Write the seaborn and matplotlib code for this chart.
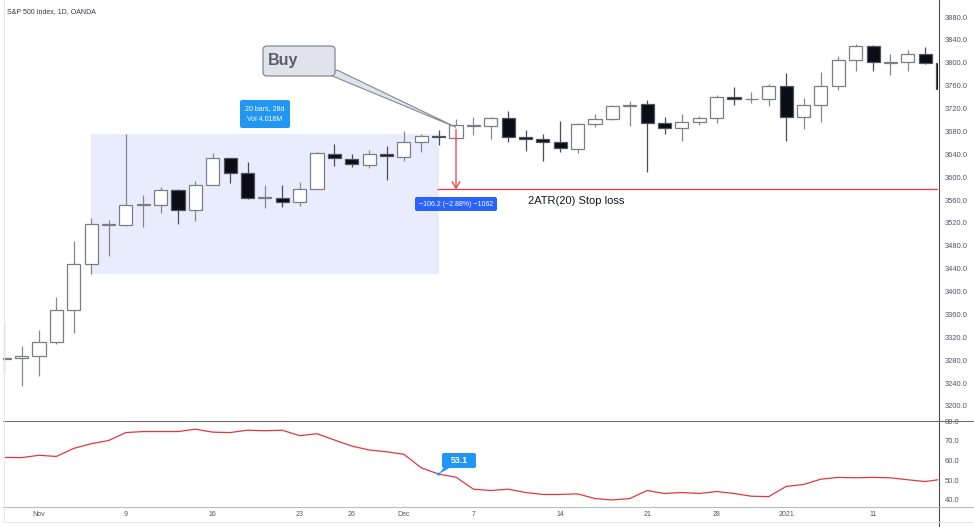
import numpy as np
import pandas as pd
import matplotlib
matplotlib.use("Agg")
import matplotlib.pyplot as plt
import matplotlib.transforms as mtransforms
import seaborn as sns
from matplotlib.patches import Rectangle, FancyBboxPatch, Polygon, Circle
from matplotlib.lines import Line2D

W, H = 974, 527

# ---------------- data ----------------
title = "S&P 500 Index, 1D, OANDA"
trading_start, trading_end = "2020-10-29", "2021-01-15"
holidays = ["2020-12-25", "2021-01-01"]

opens = [3283, 3284, 3287, 3311, 3368, 3449, 3517, 3517, 3551, 3552,
         3578, 3543, 3587, 3633, 3608, 3563, 3564, 3556, 3580, 3641,
         3632, 3622, 3640, 3636, 3662, 3672, 3668, 3690, 3690, 3704,
         3671, 3666, 3661, 3650, 3693, 3701, 3725, 3728, 3695, 3686,
         3696, 3704, 3740, 3736, 3736, 3759, 3706, 3727, 3759, 3804,
         3830, 3800, 3801, 3815, 3799]
highs = [3341, 3304, 3332, 3390, 3488, 3529, 3526, 3676, 3568, 3583,
         3579, 3594, 3642, 3634, 3626, 3586, 3586, 3591, 3644, 3658,
         3641, 3647, 3654, 3680, 3675, 3682, 3701, 3706, 3705, 3715,
         3682, 3675, 3698, 3694, 3711, 3726, 3733, 3735, 3706, 3711,
         3707, 3744, 3758, 3749, 3763, 3783, 3739, 3784, 3812, 3832,
         3831, 3816, 3822, 3827, 3800]
lows = [3259, 3235, 3252, 3309, 3328, 3430, 3463, 3515, 3513, 3537,
        3519, 3524, 3586, 3589, 3561, 3546, 3547, 3550, 3579, 3620,
        3618, 3616, 3595, 3628, 3644, 3657, 3667, 3673, 3666, 3661,
        3645, 3629, 3644, 3643, 3687, 3700, 3689, 3609, 3676, 3664,
        3691, 3694, 3727, 3729, 3725, 3664, 3684, 3697, 3752, 3786,
        3786, 3778, 3786, 3797, 3754]
closes = [3284, 3287, 3311, 3368, 3449, 3518, 3518, 3552, 3553, 3578,
          3543, 3587, 3633, 3608, 3563, 3565, 3556, 3580, 3642, 3633,
          3623, 3640, 3637, 3662, 3672, 3670, 3691, 3691, 3704, 3671,
          3667, 3661, 3651, 3693, 3701, 3725, 3727, 3695, 3686, 3696,
          3704, 3741, 3736, 3737, 3759, 3706, 3727, 3759, 3804, 3830,
          3802, 3801, 3815, 3799, 3755]
rsi = [61.6, 61.5, 62.7, 62.1, 66.2, 68.6, 70.2, 74.3, 74.8, 74.8,
       74.8, 76.0, 74.5, 74.3, 75.5, 75.2, 75.5, 72.7, 73.7, 70.5,
       67.4, 65.4, 64.5, 63.2, 56.3, 53.1, 51.5, 45.4, 44.7, 45.4,
       43.7, 42.7, 42.7, 43.0, 40.6, 39.9, 40.6, 44.7, 43.2, 43.7,
       43.2, 44.2, 43.2, 41.8, 41.6, 46.8, 47.8, 50.5, 51.4, 51.2,
       51.4, 51.2, 50.2, 49.3, 50.5]

tick_dates = ["2020-11-02", "2020-11-09", "2020-11-16", "2020-11-23",
              "2020-11-26", "2020-12-01", "2020-12-07", "2020-12-14",
              "2020-12-21", "2020-12-28", "2021-01-04", "2021-01-11"]
tick_labels = ["Nov", "9", "16", "23", "26", "Dec", "7", "14", "21",
               "28", "2021", "11"]
price_ticks = list(range(3200, 3881, 40))
rsi_ticks = [40, 50, 60, 70, 80]

range_first, range_last = "2020-11-05", "2020-12-03"
range_low, range_high = 3430, 3675
range_text = "20 bars, 28d\nVol 4.018M"
entry_date = "2020-12-04"
entry_price = 3685.2
stop_price = 3579.0
stop_text = "\u2212106.2 (\u22122.88%) \u22121062"
stop_label = "2ATR(20) Stop loss"
buy_label = "Buy"
rsi_mark_date = "2020-12-03"
rsi_mark_text = "53.1"

# ---------------- frame ----------------
dates = pd.bdate_range(trading_start, trading_end)
dates = dates[~dates.isin(pd.to_datetime(holidays))]
df = pd.DataFrame({"date": dates, "pos": np.arange(len(dates)),
                   "open": opens, "high": highs, "low": lows,
                   "close": closes, "rsi": rsi})


def idx(d):
    return int(np.where(dates == pd.Timestamp(d))[0][0])


sns.set_style("white")
plt.rcParams["font.family"] = ["Liberation Sans", "DejaVu Sans"]

fig = plt.figure(figsize=(W / 100, H / 100), dpi=100)
fig.patch.set_facecolor("white")


def fx(px):
    return px / W


def fy(py):
    return 1 - py / H


ax = fig.add_axes([fx(3), fy(420), fx(938) - fx(3), fy(1) - fy(420)])
ax2 = fig.add_axes([fx(3), fy(507), fx(938) - fx(3), fy(420) - fy(507)])

xmin, xmax = -0.072, 53.74
for a in (ax, ax2):
    a.set_xlim(xmin, xmax)
    for s in a.spines.values():
        s.set_visible(False)
    a.set_facecolor("none")
ax.set_ylim(3175.5, 3908)
ax2.set_ylim(36.3, 80.7)

# range box
r0, r1 = idx(range_first), idx(range_last)
ax.add_patch(Rectangle((r0, range_low), r1 - r0, range_high - range_low,
                       facecolor="#e8ecfd", edgecolor="none", zorder=1))

# candles
up = df["close"] >= df["open"]
body_lo = np.minimum(df["open"], df["close"])
body_h = np.maximum((df["close"] - df["open"]).abs(), 0.8)
wick_col = np.where(up, "#85888f", "#4b4e58")
ax.vlines(df["pos"], df["low"], df["high"], colors=wick_col, lw=0.9, zorder=2)
ax.bar(df["pos"], body_h, bottom=body_lo, width=0.75,
       color=np.where(up, "#ffffff", "#0a0d16"),
       edgecolor=np.where(up, "#7a7d86", "#50535d"), linewidth=0.9, zorder=3)

# stop line / arrow
e = idx(entry_date)
ax.plot([r1 - 0.1, xmax], [stop_price, stop_price], color="#f23645",
        lw=0.9, zorder=4, solid_capstyle="butt")
ax.annotate("", xy=(e, stop_price), xytext=(e, entry_price - 2),
            arrowprops=dict(arrowstyle="->,head_length=0.45,head_width=0.28",
                            color="#f23645", lw=0.9, shrinkA=0, shrinkB=0),
            zorder=5)
ax.text(30.15, stop_price - 21, stop_label, fontsize=8, color="#131722",
        ha="left", va="center", zorder=6)

# RSI line
sns.lineplot(data=df, x="pos", y="rsi", ax=ax2, color="#e0383e", lw=0.9)
ax2.set_xlabel("")
ax2.set_ylabel("")

# ticks
ax.set_xticks([])
ax.yaxis.tick_right()
ax.set_yticks(price_ticks)
ax.set_yticklabels([f"{v:.1f}" for v in price_ticks])
ax2.yaxis.tick_right()
ax2.set_yticks(rsi_ticks)
ax2.set_yticklabels([f"{v:.1f}" for v in rsi_ticks])
ax2.set_xticks([idx(d) for d in tick_dates])
ax2.set_xticklabels(tick_labels)
for a in (ax, ax2):
    a.tick_params(axis="y", length=0, pad=5, labelsize=5.4, labelcolor="#50535e")
    a.tick_params(axis="x", length=0, pad=3, labelsize=5, labelcolor="#50535e")
    a.grid(False)

# ---------------- overlay in pixel coords ----------------
pix = mtransforms.Affine2D().scale(1 / W, -1 / H).translate(0, 1) + fig.transFigure


def to_pix(a, x, y):
    dx, dy = a.transData.transform((x, y))
    return dx, H - dy


def line(x0, y0, x1, y1, color, lw=0.8):
    fig.add_artist(Line2D([x0, x1], [y0, y1], transform=pix, color=color,
                          lw=lw, zorder=10))


line(938.5, 0, 938.5, 527, "#4a4a4a")
line(3, 420.5, 974, 420.5, "#6e6e6e")
line(3, 507, 974, 507, "#b8bbc4")
line(3.5, 0, 3.5, 522, "#e6e8ee")
line(3, 522, 974, 522, "#e6e8ee")

fig.text(7, 12, title, transform=pix, fontsize=5, color="#333740",
         ha="left", va="center")

# Buy callout
tx, ty = to_pix(ax, e, entry_price + 2)
fig.add_artist(Polygon([(330, 75), (337, 70), (tx, ty)], closed=True,
                       transform=pix, facecolor="#e0e3eb",
                       edgecolor="#858893", lw=0.8, zorder=11))
fig.add_artist(FancyBboxPatch((263, 46), 72, 30,
                              boxstyle="round,pad=0,rounding_size=4",
                              transform=pix, facecolor="#e0e3eb",
                              edgecolor="#858893", lw=0.9, zorder=12))
fig.text(268, 61, buy_label, transform=pix, fontsize=11.5, fontweight="bold",
         color="#5b5e67", ha="left", va="center", zorder=13)

# range label
fig.add_artist(FancyBboxPatch((240, 100), 50, 28,
                              boxstyle="round,pad=0,rounding_size=2",
                              transform=pix, facecolor="#2196f3",
                              edgecolor="none", zorder=12))
fig.text(265, 114, range_text, transform=pix, fontsize=5, color="white",
         ha="center", va="center", linespacing=1.8, zorder=13)

# stop measure label
fig.add_artist(FancyBboxPatch((415, 197), 82, 14,
                              boxstyle="round,pad=0,rounding_size=2",
                              transform=pix, facecolor="#2962ff",
                              edgecolor="none", zorder=12))
fig.text(456, 204, stop_text, transform=pix, fontsize=5, color="white",
         ha="center", va="center", zorder=13)

# RSI value label
rx, ry = to_pix(ax2, idx(rsi_mark_date), rsi[idx(rsi_mark_date)])
fig.add_artist(Polygon([(445, 466), (453, 466), (rx, ry)], closed=True,
                       transform=pix, facecolor="#2196f3",
                       edgecolor="none", zorder=11))
fig.add_artist(Circle((rx, ry), 1.6, transform=pix, facecolor="#2196f3",
                      edgecolor="none", zorder=11))
fig.add_artist(FancyBboxPatch((442, 453), 34, 15,
                              boxstyle="round,pad=0,rounding_size=2",
                              transform=pix, facecolor="#2196f3",
                              edgecolor="none", zorder=12))
fig.text(459, 460.5, rsi_mark_text, transform=pix, fontsize=6.3,
         fontweight="bold", color="white", ha="center", va="center", zorder=13)

fig.savefig("out.png", dpi=100)
